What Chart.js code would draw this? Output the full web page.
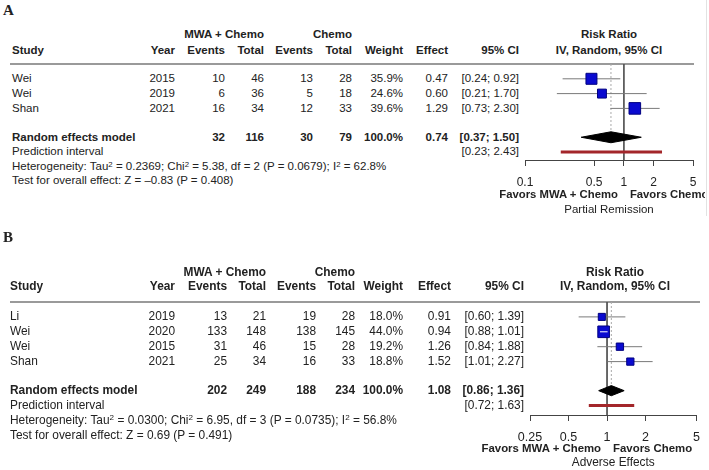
<!DOCTYPE html>
<html><head><meta charset="utf-8">
<script src="https://cdn.jsdelivr.net/npm/chart.js@4.4.1/dist/chart.umd.min.js"></script>
<style>
html,body{margin:0;padding:0;background:#fff;}
#wrap{position:relative;width:709px;height:470px;overflow:hidden;background:#fff;font-family:'Liberation Sans',Arial,Helvetica,sans-serif;color:#222;}
#wrap canvas{position:absolute;left:0;top:0;}
.t{position:absolute;white-space:nowrap;line-height:1;}
.t sup{font-size:0.68em;position:relative;top:-0.45em;vertical-align:baseline;line-height:0;}
</style></head><body><div id="wrap"></div>
<script>
// ---------- Panel A data ----------
const studyA = ['Wei','Wei','Shan'];
const yearA = [2015,2019,2021];
const evMwaA = [10,6,16];
const totMwaA = [46,36,34];
const evChemoA = [13,5,12];
const totChemoA = [28,18,33];
const weightA = [35.9,24.6,39.6];
const rrA = [0.47,0.60,1.29];
const loA = [0.24,0.21,0.73];
const hiA = [0.92,1.70,2.30];
const sumA = [32,116,30,79];
const poolA = [0.74,0.37,1.50];
const predA = [0.23,2.43];
const hetA = ['0.2369','5.38','2','0.0679','62.8'];
const testA = ['\u20130.83','0.408'];
const ticksA = [0.1,0.5,1,2,5];
const tickLabelsA = ['0.1','0.5','1','2','5'];
const outcomeA = 'Partial Remission';

// ---------- Panel B data ----------
const studyB = ['Li','Wei','Wei','Shan'];
const yearB = [2019,2020,2015,2021];
const evMwaB = [13,133,31,25];
const totMwaB = [21,148,46,34];
const evChemoB = [19,138,15,16];
const totChemoB = [28,145,28,33];
const weightB = [18.0,44.0,19.2,18.8];
const rrB = [0.91,0.94,1.26,1.52];
const loB = [0.60,0.88,0.84,1.01];
const hiB = [1.39,1.01,1.88,2.27];
const sumB = [202,249,188,234];
const poolB = [1.08,0.86,1.36];
const predB = [0.72,1.63];
const hetB = ['0.0300','6.95','3','0.0735','56.8'];
const testB = ['0.69','0.491'];
const ticksB = [0.25,0.5,1,2,5];
const tickLabelsB = ['0.25','0.5','1','2','5'];
const outcomeB = 'Adverse Effects';

const groupE = 'MWA + Chemo';
const groupC = 'Chemo';

const wrap = document.getElementById('wrap');
const FONT = "'Liberation Sans', Arial, Helvetica, sans-serif";

function T(x, y, html, align, bold, size){
  const e = document.createElement('div');
  e.className = 't';
  e.style.fontSize = size + 'px';
  if (bold) e.style.fontWeight = 'bold';
  e.innerHTML = html;
  e.style.top = (y - 0.49*size) + 'px';
  if (align === 'right') { e.style.right = (709 - x) + 'px'; e.style.textAlign = 'right'; }
  else if (align === 'center') { e.style.left = x + 'px'; e.style.transform = 'translateX(-50%)'; }
  else e.style.left = x + 'px';
  wrap.appendChild(e);
  return e;
}

function panel(d, L){
  const fs = L.fs, c = L.cols;
  const rowY = i => L.ruleY + i*L.unit;
  const lt = T(L.letterX, L.letterY, d.letter, 'left', true, 15);
  lt.style.fontFamily = "'Liberation Serif','Times New Roman',serif";
  // headers
  T(c[2], L.h1Y, groupE, 'right', true, fs);
  T(c[4], L.h1Y, groupC, 'right', true, fs);
  T(L.studyX, L.h2Y, 'Study', 'left', true, fs);
  ['Year','Events','Total','Events','Total','Weight','Effect','95% CI'].forEach((h,i)=>T(c[i], L.h2Y, h, 'right', true, fs));
  const mid = (L.axisX[0] + L.axisX[1]) / 2;
  T(mid, L.h1Y, 'Risk Ratio', 'center', true, fs);
  T(mid, L.h2Y, 'IV, Random, 95% CI', 'center', true, fs);
  // rule
  const r = document.createElement('div');
  r.style.cssText = `position:absolute;left:${L.ruleX[0]}px;width:${L.ruleX[1]-L.ruleX[0]}px;top:${L.ruleY-1}px;height:2px;background:#9a9a9a;`;
  wrap.appendChild(r);
  // study rows
  d.study.forEach((s,i)=>{
    const y = rowY(i+1);
    T(L.studyX, y, s, 'left', false, fs);
    T(c[0], y, d.year[i], 'right', false, fs);
    T(c[1], y, d.evE[i], 'right', false, fs);
    T(c[2], y, d.totE[i], 'right', false, fs);
    T(c[3], y, d.evC[i], 'right', false, fs);
    T(c[4], y, d.totC[i], 'right', false, fs);
    T(c[5], y, d.weight[i].toFixed(1)+'%', 'right', false, fs);
    T(c[6], y, d.rr[i].toFixed(2), 'right', false, fs);
    T(c[7], y, '['+d.lo[i].toFixed(2)+'; '+d.hi[i].toFixed(2)+']', 'right', false, fs);
  });
  const yRE = rowY(L.reIdx);
  T(L.studyX, yRE, 'Random effects model', 'left', true, fs);
  d.sum.forEach((v,i)=>T(c[i+1], yRE, v, 'right', true, fs));
  T(c[5], yRE, '100.0%', 'right', true, fs);
  T(c[6], yRE, d.pool[0].toFixed(2), 'right', true, fs);
  T(c[7], yRE, '['+d.pool[1].toFixed(2)+'; '+d.pool[2].toFixed(2)+']', 'right', true, fs);
  const yPI = rowY(L.piIdx);
  T(L.studyX, yPI, 'Prediction interval', 'left', false, fs);
  T(c[7], yPI, '['+d.pred[0].toFixed(2)+'; '+d.pred[1].toFixed(2)+']', 'right', false, fs);
  const h = d.het;
  T(L.studyX, rowY(L.hetIdx), `Heterogeneity: Tau<sup>2</sup> = ${h[0]}; Chi<sup>2</sup> = ${h[1]}, df = ${h[2]} (P = ${h[3]}); I<sup>2</sup> = ${h[4]}%`, 'left', false, fs);
  T(L.studyX, rowY(L.testIdx), `Test for overall effect: Z = ${d.test[0]} (P = ${d.test[1]})`, 'left', false, fs);

  // ---------- chart ----------
  const cv = document.createElement('canvas');
  cv.width = 709; cv.height = 470;
  cv.style.width = '709px'; cv.style.height = '470px';
  wrap.appendChild(cv);
  const yMax = (L.axisY - L.ruleY) / L.unit;
  const sides = d.weight.map(w => L.boxK*Math.sqrt(w));
  const ds = [];
  ds.push({type:'line', data:[{x:1,y:0},{x:1,y:yMax}], borderColor:'#555', borderWidth:1, pointRadius:0, order:10});
  ds.push({type:'line', data:[{x:d.pool[0],y:0},{x:d.pool[0],y:L.reIdx-L.dH}], borderColor:'#aaa', borderWidth:1, borderDash:[2,2], pointRadius:0, order:9});
  d.study.forEach((s,i)=>{
    ds.push({type:'line', data:[{x:d.lo[i],y:i+1},{x:d.hi[i],y:i+1}], borderColor:'#7a7a7a', borderWidth:1, pointRadius:0, order:6});
  });
  ds.push({type:'scatter', data:d.rr.map((v,i)=>({x:v,y:i+1})), pointStyle:'rect',
    pointRadius:sides.map(s=>(s-1)/(2*Math.SQRT1_2)), backgroundColor:'#0a0ad0', borderColor:'#000080', borderWidth:1, order:4});
  d.study.forEach((s,i)=>{
    ds.push({type:'line', data:[{x:d.lo[i],y:i+1},{x:d.hi[i],y:i+1}], borderWidth:1, pointRadius:0, order:2,
      borderColor: (ctx)=>{ const xs = ctx.chart.scales.x; if(!xs) return 'rgba(0,0,0,0)';
        const w = xs.getPixelForValue(d.hi[i]) - xs.getPixelForValue(d.lo[i]);
        return w < sides[i] - 1 ? '#ffffff' : 'rgba(0,0,0,0)'; }});
  });
  ds.push({type:'line', data:[{x:d.pool[1],y:L.reIdx},{x:d.pool[0],y:L.reIdx-L.dH},{x:d.pool[2],y:L.reIdx},{x:d.pool[0],y:L.reIdx+L.dH},{x:d.pool[1],y:L.reIdx}],
    fill:'shape', backgroundColor:'#000', borderColor:'#000', borderWidth:1, pointRadius:0, tension:0, order:3});
  ds.push({type:'line', data:[{x:d.pred[0],y:L.piIdx},{x:d.pred[1],y:L.piIdx}], borderColor:'#a3262a', borderWidth:3, borderCapStyle:'butt', pointRadius:0, order:3});

  const chart = new Chart(cv.getContext('2d'), {
    type:'scatter',
    data:{datasets:ds},
    options:{
      responsive:false, animation:false, devicePixelRatio:1,
      layout:{padding:{left:L.axisX[0], right:709-L.axisX[1], top:L.ruleY, bottom:470-L.axisY-30}},
      plugins:{legend:{display:false}, tooltip:{enabled:false}},
      scales:{
        x:{type:'logarithmic', min:d.ticks[0], max:d.ticks[d.ticks.length-1],
          afterBuildTicks: s => { s.ticks = d.ticks.map(v=>({value:v})); },
          afterFit: s => { s.height = 30; },
          ticks:{autoSkip:false, maxRotation:0, padding:9, color:'#222', font:{family:FONT, size:L.tickFs},
            callback:(v,i)=>d.tickLabels[i]},
          grid:{drawOnChartArea:false, drawTicks:true, tickLength:6, color:'#444', lineWidth:1},
          border:{display:true, color:'#444', width:1}},
        y:{type:'linear', min:0, max:yMax, reverse:true, display:false}
      }
    }
  });
  const x1 = chart.scales.x.getPixelForValue(1);
  T(x1-6, L.favY, 'Favors '+groupE, 'right', true, L.favFs);
  const fc = T(x1+6, L.favY, 'Favors '+groupC, 'left', true, L.favFs);
  if (L.clipX) { fc.style.width = (L.clipX - x1 - 6) + 'px'; fc.style.overflow = 'hidden'; }
  const ca = chart.chartArea;
  T((ca.left+ca.right)/2, L.titleY, d.outcome, 'center', false, fs);
}

panel({letter:'A', study:studyA, year:yearA, evE:evMwaA, totE:totMwaA, evC:evChemoA, totC:totChemoA,
  weight:weightA, rr:rrA, lo:loA, hi:hiA, sum:sumA, pool:poolA, pred:predA, het:hetA, test:testA,
  ticks:ticksA, tickLabels:tickLabelsA, outcome:outcomeA},
  {fs:11.5, tickFs:12, favFs:11.3, clipX:705, letterX:3, letterY:10, studyX:12, cols:[175,225,264,313,352,403,448,519], h1Y:35, h2Y:51,
   ruleY:64, ruleX:[10,694], unit:14.8, axisX:[525,693], axisY:160, reIdx:4.95, piIdx:5.95, hetIdx:6.95, testIdx:7.9,
   favY:195, titleY:210, dH:0.37, boxK:2.0});

panel({letter:'B', study:studyB, year:yearB, evE:evMwaB, totE:totMwaB, evC:evChemoB, totC:totChemoB,
  weight:weightB, rr:rrB, lo:loB, hi:hiB, sum:sumB, pool:poolB, pred:predB, het:hetB, test:testB,
  ticks:ticksB, tickLabels:tickLabelsB, outcome:outcomeB},
  {fs:11.9, tickFs:12.5, favFs:11.4, clipX:0, letterX:3, letterY:237, studyX:10, cols:[175,227,266,316,355,403,451,524], h1Y:273, h2Y:287,
   ruleY:302, ruleX:[10,700], unit:14.9, axisX:[530,700], axisY:415, reIdx:5.95, piIdx:6.95, hetIdx:7.95, testIdx:8.95,
   favY:449, titleY:463, dH:0.34, boxK:1.9});

// faint border at right edge of panel A image
const edge = document.createElement('div');
edge.style.cssText = 'position:absolute;left:706px;top:0;width:1px;height:216px;background:#e2e2e2;';
wrap.appendChild(edge);
</script></body></html>
